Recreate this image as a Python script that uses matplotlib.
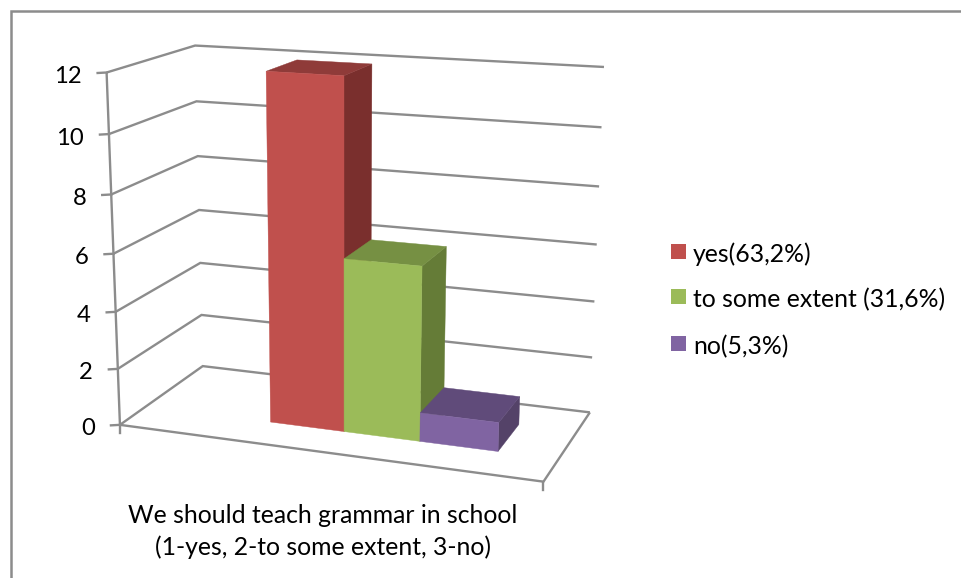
import numpy as np
import matplotlib
matplotlib.use('Agg')
import matplotlib.pyplot as plt
from matplotlib.patches import Polygon, Rectangle

plt.rcParams['font.family'] = ['Lato', 'DejaVu Sans']

# chart data
series_names = ['yes(63,2%)', 'to some extent (31,6%)', 'no(5,3%)']
series_values = [12, 6, 1]
tick_values = [0, 2, 4, 6, 8, 10, 12]
axis_title = 'We should teach grammar in school\n(1-yes, 2-to some extent, 3-no)'

# front, top, side colours per series
front_colors = ['#C0504D', '#9BBB59', '#8064A2']
top_colors = ['#8F3B39', '#769043', '#604B7A']
side_colors = ['#7A2F2D', '#657C37', '#544268']
GRID = '#8C8C8C'
TEXT_SIZE = 17.8

# (x, depth, value) of box corners -> pixel, used to calibrate the 3D view
box_corners = [(0, 0, 0), (0, 0, 12), (0, 1, 0), (0, 1, 12), (1, 1, 0), (1, 1, 12), (1, 0, 0)]
box_pixels = [(120, 425), (106.7, 72.3), (202.7, 366), (195, 45.7), (590, 412.3), (604, 67), (543.3, 481.7)]

# bar layout in box units
BAR_LEFT = 0.319
BAR_WIDTH = 0.1815
BAR_FRONT = 0.30
BAR_BACK = 0.70


def fit_projection(corners, pixels):
    rows, rhs = [], []
    for (x, z, v), (u, w) in zip(corners, pixels):
        rows.append([x, z, v, 1, 0, 0, 0, 0, -u * x, -u * z, -u * v])
        rhs.append(u)
        rows.append([0, 0, 0, 0, x, z, v, 1, -w * x, -w * z, -w * v])
        rhs.append(w)
    p = np.linalg.lstsq(np.array(rows, float), np.array(rhs, float), rcond=None)[0]
    return np.append(p, 1).reshape(3, 4)


P = fit_projection(box_corners, box_pixels)


def project(x, z, v):
    u, w, h = P @ np.array([x, z, v, 1.0])
    return u / h, w / h


def draw_line(ax, pts):
    xy = np.array([project(*p) for p in pts])
    ax.plot(xy[:, 0], xy[:, 1], color=GRID, lw=1.7, solid_capstyle='butt', solid_joinstyle='miter', zorder=1)


def draw_face(ax, pts, color):
    xy = [project(*p) for p in pts]
    ax.add_patch(Polygon(xy, closed=True, facecolor=color, edgecolor=color, lw=0.3, zorder=2))


fig = plt.figure(figsize=(9.61, 5.78), dpi=100)
ax = fig.add_axes([0, 0, 1, 1])
ax.set_xlim(0, 961)
ax.set_ylim(578, 0)
ax.axis('off')

# outer frame, only left and top are visible in the picture
ax.plot([11, 11, 961], [578, 11, 11], color=GRID, lw=1.8, solid_joinstyle='miter', zorder=1)

# walls and gridlines
for v in tick_values:
    draw_line(ax, [(0, 0, v), (0, 1, v), (1, 1, v)])
    u, w = project(0, 0, v)
    ax.plot([u - 9, u], [w + 0.5, w], color=GRID, lw=1.7, zorder=1)
    ax.text(u - 25, w + 4, str(v), ha='right', va='center', fontsize=17.2, color='black')
draw_line(ax, [(0, 0, 0), (0, 0, 12)])
draw_line(ax, [(0, 0, 0), (1, 0, 0), (1, 1, 0)])

# category ticks under the floor
for x in [0, 1]:
    u, w = project(x, 0, 0)
    ax.plot([u, u], [w, w + 8], color=GRID, lw=1.7, zorder=1)

# bars
for i, val in enumerate(series_values):
    x0 = BAR_LEFT + i * BAR_WIDTH
    x1 = x0 + BAR_WIDTH
    draw_face(ax, [(x1, BAR_FRONT, 0), (x1, BAR_BACK, 0), (x1, BAR_BACK, val), (x1, BAR_FRONT, val)], side_colors[i])
    draw_face(ax, [(x0, BAR_FRONT, val), (x1, BAR_FRONT, val), (x1, BAR_BACK, val), (x0, BAR_BACK, val)], top_colors[i])
    draw_face(ax, [(x0, BAR_FRONT, 0), (x1, BAR_FRONT, 0), (x1, BAR_FRONT, val), (x0, BAR_FRONT, val)], front_colors[i])

# legend
legend_y = [262, 307, 354]
for name, color, y in zip(series_names, front_colors, legend_y):
    ax.add_patch(Rectangle((671, y - 18), 15, 15, facecolor=color, edgecolor='none', zorder=2))
    ax.text(693, y, name, ha='left', va='baseline', fontsize=TEXT_SIZE, color='black')

# category axis title
line1, line2 = axis_title.split('\n')
ax.text(323, 523, line1, ha='center', va='baseline', fontsize=TEXT_SIZE, color='black')
ax.text(323, 555, line2, ha='center', va='baseline', fontsize=TEXT_SIZE, color='black')

fig.savefig('out.png', dpi=100)
